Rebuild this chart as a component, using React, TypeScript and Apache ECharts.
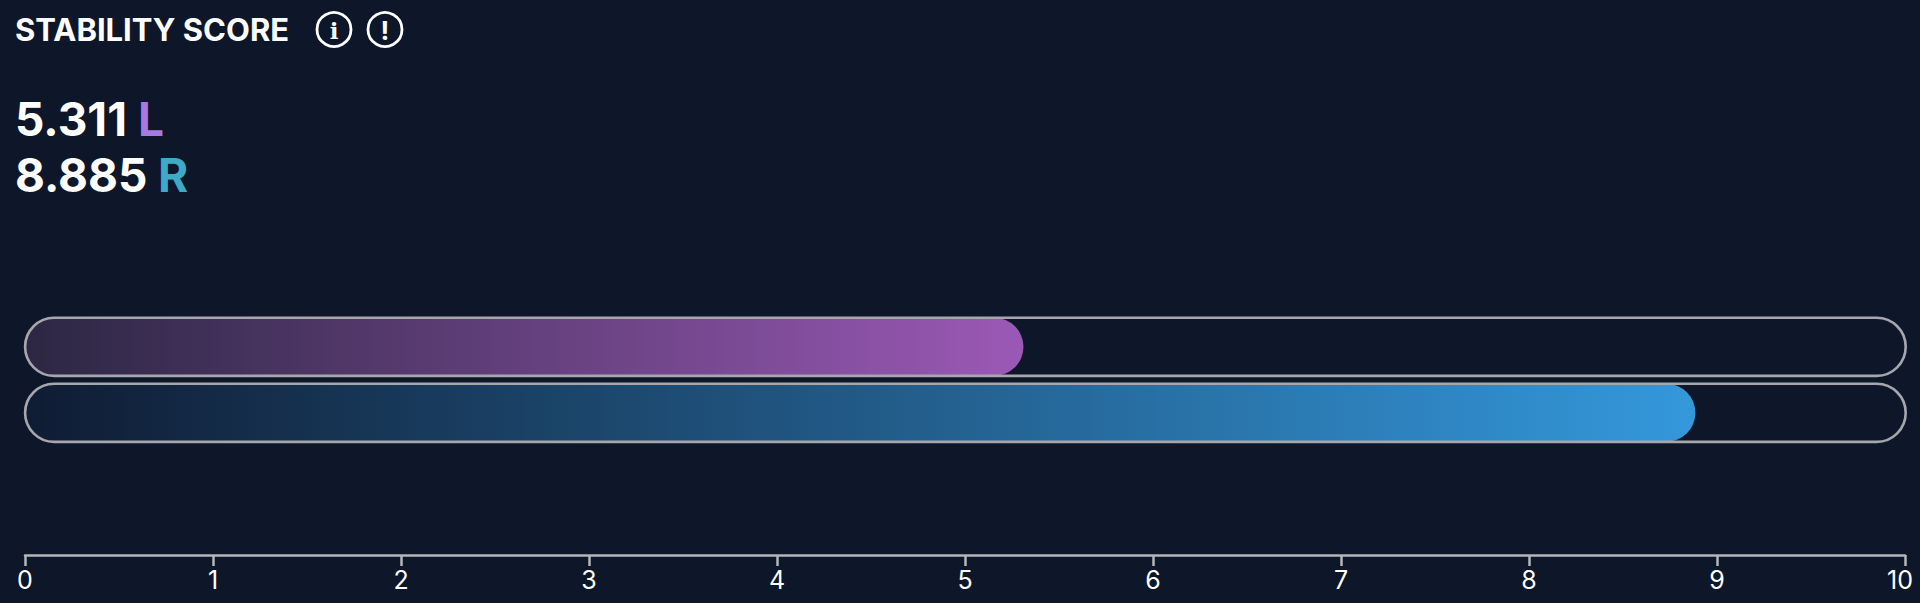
import React, { useEffect, useRef } from "react";
import * as echarts from "echarts";

const categories = ["L", "R"];
const scores = [5.311, 8.885];
const trackValues = [10, 10];
const tickValues = [0, 1, 2, 3, 4, 5, 6, 7, 8, 9, 10];
const titleText = "STABILITY SCORE";
const labelColors = ["#a67ae0", "#3fa9c8"];
const gradients = [
  ["#2c2743", "#9b59b6"],
  ["#0f1c33", "#3498db"],
];
const BG = "#0e1729";
const SANS = "Inter";

export default function App() {
  const ref = useRef<HTMLDivElement>(null);
  useEffect(() => {
    document.body.style.margin = "0";
    document.body.style.background = BG;
    const chart = echarts.init(ref.current!, undefined, { renderer: "svg" });
    const iconStyle = { stroke: "#ffffff", lineWidth: 2.8, fill: "none" };
    chart.setOption({
      animation: false,
      backgroundColor: BG,
      grid: [
        { left: 25, right: 15, top: 313.8, height: 132 },
        { left: 23.8, right: 13, top: 313.8, height: 132 },
      ],
      xAxis: [
        {
          type: "value",
          gridIndex: 0,
          min: 0,
          max: 10,
          interval: 1,
          position: "bottom",
          offset: 109.2,
          splitLine: { show: false },
          axisLine: { show: true, lineStyle: { color: "#b4b6bb", width: 2.5 } },
          axisTick: { show: true, length: 11, lineStyle: { color: "#b4b6bb", width: 2.5 } },
          axisLabel: {
            color: "#ffffff",
            fontFamily: SANS,
            fontSize: 25,
            margin: 12,
            hideOverlap: false,
            formatter: (v: number) => {
              if (!tickValues.includes(v)) return "";
              return v === 10 ? `{last|${v}}` : String(v);
            },
            rich: {
              last: { color: "#ffffff", fontFamily: SANS, fontSize: 25, padding: [0, 10, 0, 0] },
            },
          },
        },
        { type: "value", gridIndex: 1, min: 0, max: 10, show: false, splitLine: { show: false } },
      ],
      yAxis: [
        { type: "category", gridIndex: 0, inverse: true, data: categories, show: false },
        { type: "category", gridIndex: 1, inverse: true, data: categories, show: false },
      ],
      series: [
        {
          type: "bar",
          name: "score",
          xAxisIndex: 0,
          yAxisIndex: 0,
          data: scores.map((v, i) => ({
            value: v,
            itemStyle: {
              borderRadius: 29,
              color: new echarts.graphic.LinearGradient(0, 0, 1, 0, [
                { offset: 0, color: gradients[i][0] },
                { offset: 1, color: gradients[i][1] },
              ]),
            },
          })),
          barWidth: 58,
          z: 2,
        },
        {
          type: "bar",
          name: "track",
          xAxisIndex: 1,
          yAxisIndex: 1,
          data: trackValues,
          barWidth: 60.8,
          itemStyle: {
            color: "transparent",
            borderColor: "#a5a7ad",
            borderWidth: 2.6,
            borderRadius: 30.4,
          },
          z: 3,
        },
      ],
      graphic: [
        { type: "text", x: 15, y: 14, style: { text: titleText, fill: "#fff", font: `700 31px ${SANS}` } },
        { type: "circle", shape: { cx: 334, cy: 29.5, r: 17 }, style: iconStyle },
        { type: "text", x: 334, y: 30, style: { text: "i", fill: "#fff", font: `700 23px "DejaVu Serif"`, align: "center", verticalAlign: "middle" } },
        { type: "circle", shape: { cx: 385, cy: 29.5, r: 17 }, style: iconStyle },
        { type: "text", x: 385, y: 30, style: { text: "!", fill: "#fff", font: `700 26px ${SANS}`, align: "center", verticalAlign: "middle" } },
        { type: "text", x: 15, y: 96, style: { text: String(scores[0]), fill: "#fff", font: `700 46px ${SANS}` } },
        { type: "text", x: 138, y: 96, style: { text: categories[0], fill: labelColors[0], font: `700 46px ${SANS}` } },
        { type: "text", x: 15, y: 152, style: { text: String(scores[1]), fill: "#fff", font: `700 46px ${SANS}` } },
        { type: "text", x: 158, y: 152, style: { text: categories[1], fill: labelColors[1], font: `700 46px ${SANS}` } },
      ],
    });
    return () => chart.dispose();
  }, []);
  return <div ref={ref} style={{ width: 1920, height: 603 }} />;
}
